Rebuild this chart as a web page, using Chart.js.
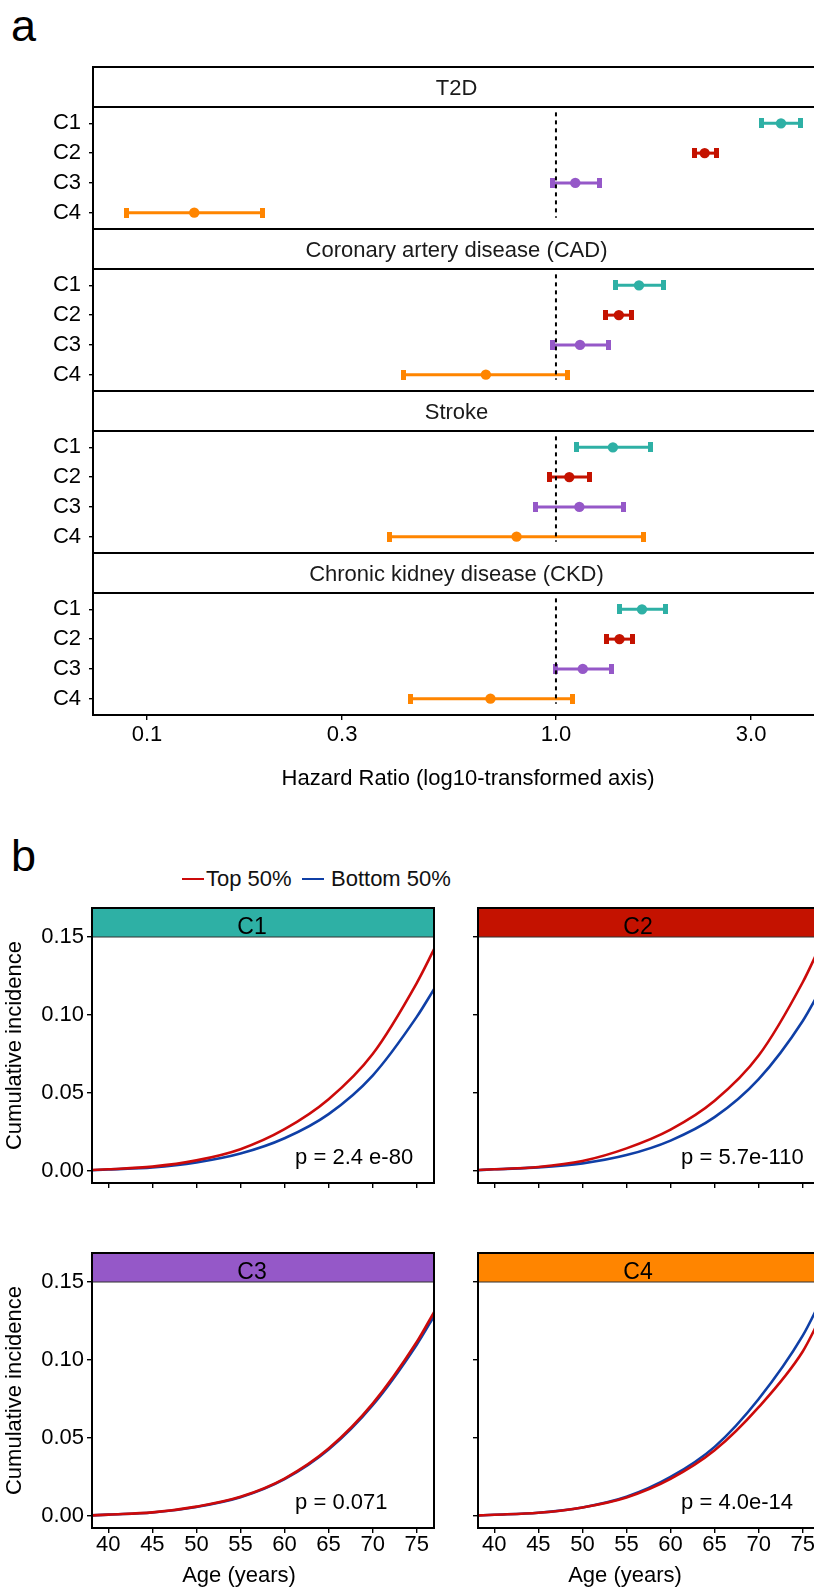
<!DOCTYPE html>
<html>
<head>
<meta charset="utf-8">
<script src="https://cdn.jsdelivr.net/npm/chart.js@4"></script>
<style>
  html, body { margin: 0; padding: 0; background: #fff; overflow: hidden; }
  body { width: 814px; height: 1587px; position: relative; font-family: "Liberation Sans", Arial, Helvetica, sans-serif; }
  canvas { position: absolute; }
  .tag { position: absolute; font-size: 45px; line-height: 45px; color: #000; }
  .leg-text { position: absolute; font-size: 22px; line-height: 22px; color: #111; white-space: nowrap; }
  .leg-line { position: absolute; height: 2.2px; }
</style>
</head>
<body>
<div class="tag" style="left:11px; top:3px;">a</div>
<div class="tag" style="left:11px; top:833px;">b</div>

<script>
// ---------------- data ----------------
const clusters = ['C1', 'C2', 'C3', 'C4'];
const outcomes = ['T2D', 'Coronary artery disease (CAD)', 'Stroke', 'Chronic kidney disease (CKD)'];

// hazard ratio and 95% CI per cluster, one set per outcome
const hrT2D    = [3.55, 2.31, 1.115, 0.1305];
const loT2D    = [3.18, 2.18, 0.98, 0.0892];
const hiT2D    = [3.97, 2.47, 1.277, 0.1918];
const hrCAD    = [1.596, 1.425, 1.145, 0.674];
const loCAD    = [1.398, 1.324, 0.978, 0.425];
const hiCAD    = [1.827, 1.534, 1.341, 1.066];
const hrStroke = [1.378, 1.078, 1.141, 0.801];
const loStroke = [1.12, 0.967, 0.890, 0.391];
const hiStroke = [1.701, 1.21, 1.463, 1.638];
const hrCKD    = [1.623, 1.43, 1.163, 0.6915];
const loCKD    = [1.428, 1.331, 0.996, 0.4416];
const hiCKD    = [1.855, 1.539, 1.367, 1.095];

const hrTicks = [0.1, 0.3, 1, 3];
const hrTickLabels = ['0.1', '0.3', '1.0', '3.0'];
const refHR = 1;

// cumulative incidence by age, top vs bottom 50% of the cluster score
const ages      = [38.1, 40, 45, 50, 55, 60, 65, 70, 75, 77];
const topC1     = [0.0006, 0.0011, 0.0028, 0.0068, 0.0140, 0.0268, 0.0460, 0.0750, 0.1205, 0.1425];
const bottomC1  = [0.0005, 0.0010, 0.0023, 0.0055, 0.0112, 0.0210, 0.0365, 0.0612, 0.0988, 0.1169];
const topC2     = [0.0006, 0.0011, 0.0026, 0.0064, 0.0145, 0.0265, 0.0450, 0.0740, 0.1210, 0.1445];
const bottomC2  = [0.0005, 0.0011, 0.0023, 0.0049, 0.0102, 0.0195, 0.0345, 0.0589, 0.0962, 0.1160];
const topC3     = [0.0004, 0.0009, 0.0023, 0.0060, 0.0123, 0.0240, 0.0432, 0.0720, 0.1115, 0.1310];
const bottomC3  = [0.0004, 0.0009, 0.0022, 0.0058, 0.0120, 0.0236, 0.0426, 0.0710, 0.1098, 0.1285];
const topC4     = [0.0004, 0.0008, 0.0021, 0.0055, 0.0119, 0.0238, 0.0421, 0.0698, 0.1055, 0.1270];
const bottomC4  = [0.0004, 0.0008, 0.0021, 0.0055, 0.0123, 0.0250, 0.0443, 0.0750, 0.1156, 0.1375];

const groups = ['Top 50%', 'Bottom 50%'];
const pLabels = ['p = 2.4 e-80', 'p = 5.7e-110', 'p = 0.071', 'p = 4.0e-14'];
const pAnchor = { age: 61.2, inc: 0.0081 };
const ageTicks = [40, 45, 50, 55, 60, 65, 70, 75];
const incTicks = [0, 0.05, 0.10, 0.15];

// ---------------- style ----------------
const FONT = '"Liberation Sans", Arial, Helvetica, sans-serif';
const clusterColors = ['#2EB0A5', '#C41200', '#9558C8', '#FF8500'];
const groupColors = ['#CC0A0A', '#0F3FA6'];

Chart.defaults.font.family = FONT;
Chart.defaults.color = '#000';

function addCanvas(left, top, w, h) {
  const c = document.createElement('canvas');
  c.width = w; c.height = h;
  c.style.left = left + 'px'; c.style.top = top + 'px';
  c.style.width = w + 'px'; c.style.height = h + 'px';
  document.body.appendChild(c);
  return c;
}

// small filled bar used as the end cap of a confidence interval
function capImage(color) {
  const c = document.createElement('canvas');
  c.width = 5; c.height = 10;
  const g = c.getContext('2d');
  g.fillStyle = color;
  g.fillRect(0, 0, 5, 10);
  return c;
}

// fixed axis sizes; drop the label overhang padding so plot areas line up
function fixHeight(h) {
  return s => { s.height = h; s.paddingLeft = 0; s.paddingRight = 0; };
}
function fixWidth(w) {
  return s => { s.width = w; s.paddingTop = 0; s.paddingBottom = 0; };
}

// white facet strip with the outcome name above each forest panel
const forestStrip = {
  id: 'forestStrip',
  afterDraw(chart, args, opts) {
    const { ctx, chartArea: { left, right, top } } = chart;
    const h = opts.height;
    ctx.save();
    ctx.fillStyle = '#fff';
    ctx.fillRect(left, top - h, right - left, h);
    ctx.strokeStyle = '#000';
    ctx.lineWidth = 2;
    ctx.strokeRect(left, top - h, right - left + 4, h);
    ctx.fillStyle = '#1a1a1a';
    ctx.font = '22px ' + FONT;
    ctx.textAlign = 'center';
    ctx.textBaseline = 'alphabetic';
    ctx.fillText(opts.text, (left + right) / 2, top - h / 2 + 8);
    ctx.restore();
  }
};

// free-standing axis title placed relative to the plot area
const axisCaption = {
  id: 'axisCaption',
  afterDraw(chart, args, opts) {
    if (!opts.text) return;
    const { ctx, chartArea: { left, bottom } } = chart;
    ctx.save();
    ctx.fillStyle = '#000';
    ctx.font = '22px ' + FONT;
    ctx.textAlign = 'center';
    ctx.textBaseline = 'alphabetic';
    ctx.fillText(opts.text, left + opts.dx, bottom + opts.dy);
    ctx.restore();
  }
};

// coloured strip, frame and p-value for each incidence panel
const curvePanel = {
  id: 'curvePanel',
  afterDatasetsDraw(chart, args, opts) {
    const { ctx, chartArea: { left, right, top, bottom }, scales: { x, y } } = chart;
    const sb = y.getPixelForValue(incTicks[incTicks.length - 1]);
    ctx.save();
    ctx.fillStyle = opts.color;
    ctx.fillRect(left, top, right - left, sb - top);
    ctx.strokeStyle = '#333';
    ctx.lineWidth = 1.2;
    ctx.beginPath(); ctx.moveTo(left, sb); ctx.lineTo(right, sb); ctx.stroke();
    ctx.fillStyle = '#000';
    ctx.font = '23px ' + FONT;
    ctx.textAlign = 'center';
    ctx.textBaseline = 'alphabetic';
    ctx.fillText(opts.strip, left + 160, sb - 3);
    ctx.strokeStyle = '#000';
    ctx.lineWidth = 2;
    ctx.strokeRect(left, top, right - left, bottom - top);
    ctx.font = '22px ' + FONT;
    ctx.textAlign = 'left';
    ctx.textBaseline = 'middle';
    ctx.fillText(opts.p, x.getPixelForValue(pAnchor.age), y.getPixelForValue(pAnchor.inc));
    ctx.restore();
  }
};

// ---------------- panel a: forest plots ----------------
const forestSets = [
  [hrT2D, loT2D, hiT2D],
  [hrCAD, loCAD, hiCAD],
  [hrStroke, loStroke, hiStroke],
  [hrCKD, loCKD, hiCKD]
];
const rows = clusters.map((_, k) => k + 1);
const caps = clusterColors.map(capImage);

forestSets.forEach(([est, lo, hi], i) => {
  const isLast = i === forestSets.length - 1;
  const top = 60 + 162 * i;
  const axisH = isLast ? 77 : 0;
  const canvas = addCanvas(0, top, 820, 169 + axisH);

  const datasets = [
    {
      data: [{ x: refHR, y: rows[0] - 0.37 }, { x: refHR, y: rows[rows.length - 1] + 0.17 }],
      showLine: true, borderColor: '#000', borderWidth: 2, borderDash: [4, 4], pointRadius: 0
    },
    {
      data: clusters.map((c, k) => ({ x: est[k], y: rows[k] })),
      showLine: false, pointRadius: 5.2, pointStyle: 'circle',
      pointBackgroundColor: clusterColors, pointBorderWidth: 0
    },
    ...clusters.map((c, k) => ({
      data: [{ x: lo[k], y: rows[k] }, { x: hi[k], y: rows[k] }],
      showLine: true, borderColor: clusterColors[k], borderWidth: 3,
      pointStyle: caps[k], pointRadius: 5, pointBorderWidth: 0
    }))
  ];

  new Chart(canvas, {
    type: 'scatter',
    data: { datasets },
    options: {
      responsive: false, animation: false, events: [], devicePixelRatio: 1,
      layout: { padding: { top: 47, left: 0, right: 0, bottom: 0 }, autoPadding: false },
      plugins: {
        legend: { display: false }, tooltip: { enabled: false },
        forestStrip: { text: outcomes[i], height: 40 },
        axisCaption: { text: isLast ? 'Hazard Ratio (log10-transformed axis)' : '', dx: 375, dy: 70 }
      },
      scales: {
        x: {
          type: 'logarithmic', min: 0.07379, max: 4.422,
          afterBuildTicks: s => { s.ticks = hrTicks.map(v => ({ value: v })); },
          afterFit: fixHeight(axisH),
          ticks: { display: isLast, callback: (v, idx) => hrTickLabels[idx], font: { size: 22, lineHeight: 1 }, padding: 4, color: '#000', maxRotation: 0, autoSkip: false },
          grid: { drawOnChartArea: false, drawTicks: isLast, tickLength: 5, color: '#000', lineWidth: 1.4 },
          border: { display: isLast, color: '#000', width: 2 }
        },
        y: {
          type: 'linear', reverse: true, min: 0.45, max: 4.55,
          afterBuildTicks: s => { s.ticks = rows.map(v => ({ value: v })); },
          afterFit: fixWidth(93),
          ticks: { callback: (v, idx) => clusters[idx], font: { size: 22 }, padding: 8, color: '#000', autoSkip: false },
          grid: { drawOnChartArea: false, drawTicks: true, tickLength: 4, color: '#000', lineWidth: 1.4 },
          border: { display: true, color: '#000', width: 2 }
        }
      }
    },
    plugins: [forestStrip, axisCaption]
  });
});

// ---------------- panel b legend ----------------
const legendSpots = [{ line: 181.7, text: 206 }, { line: 301.7, text: 331 }];
groups.forEach((g, k) => {
  const ln = document.createElement('div');
  ln.className = 'leg-line';
  ln.style.left = legendSpots[k].line + 'px';
  ln.style.top = '878px';
  ln.style.width = '22px';
  ln.style.background = groupColors[k];
  document.body.appendChild(ln);
  const tx = document.createElement('div');
  tx.className = 'leg-text';
  tx.style.left = legendSpots[k].text + 'px';
  tx.style.top = '867.5px';
  tx.textContent = g;
  document.body.appendChild(tx);
});

// ---------------- panel b: cumulative incidence ----------------
const curveSets = [[topC1, bottomC1], [topC2, bottomC2], [topC3, bottomC3], [topC4, bottomC4]];

curveSets.forEach(([topSeries, bottomSeries], k) => {
  const leftCol = k % 2 === 0;
  const bottomRow = k >= 2;
  const plotLeft = leftCol ? 92 : 478;
  const plotRight = plotLeft + 342;
  const chartTop = bottomRow ? 1253 : 908;
  const chartBottom = chartTop + 275;
  const canvasLeft = leftCol ? 0 : 460;
  const canvasTop = chartTop - 8;
  const xH = bottomRow ? 60 : 8;
  const canvas = addCanvas(canvasLeft, canvasTop, plotRight - canvasLeft + 2, chartBottom - canvasTop + xH);

  const series = [topSeries, bottomSeries];
  const datasets = series.map((s, g) => ({
    label: groups[g],
    data: ages.map((a, i) => ({ x: a, y: s[i] })),
    showLine: true, borderColor: groupColors[g], borderWidth: 2.6,
    pointRadius: 0, cubicInterpolationMode: 'monotone'
  }));

  new Chart(canvas, {
    type: 'scatter',
    data: { datasets },
    options: {
      responsive: false, animation: false, events: [], devicePixelRatio: 1,
      layout: { padding: { top: 8, left: 0, right: 2, bottom: 0 }, autoPadding: false },
      plugins: {
        legend: { display: false }, tooltip: { enabled: false },
        curvePanel: { color: clusterColors[k], strip: clusters[k], p: pLabels[k] },
        axisCaption: { text: bottomRow ? 'Age (years)' : '', dx: 147, dy: 54 }
      },
      scales: {
        x: {
          type: 'linear', min: 38.15, max: 76.96,
          afterBuildTicks: s => { s.ticks = ageTicks.map(v => ({ value: v })); },
          afterFit: fixHeight(xH),
          ticks: { callback: v => bottomRow ? String(v) : '', font: { size: 22, lineHeight: 1 }, padding: 1, color: '#000', maxRotation: 0, autoSkip: false },
          grid: { drawOnChartArea: false, drawTicks: true, tickLength: 5, color: '#000', lineWidth: 1.4 },
          border: { display: false }
        },
        y: {
          type: 'linear', min: -0.00769, max: 0.1686,
          afterBuildTicks: s => { s.ticks = incTicks.map(v => ({ value: v })); },
          afterFit: fixWidth(plotLeft - canvasLeft),
          ticks: { callback: v => leftCol ? v.toFixed(2) : '', font: { size: 22 }, padding: 3, color: '#000', autoSkip: false },
          grid: { drawOnChartArea: false, drawTicks: true, tickLength: 5, color: '#000', lineWidth: 1.4 },
          border: { display: false },
          title: { display: leftCol, text: 'Cumulative incidence', font: { size: 22 }, padding: { top: 2, bottom: 0 }, color: '#000' }
        }
      }
    },
    plugins: [curvePanel, axisCaption]
  });
});
</script>
</body>
</html>
